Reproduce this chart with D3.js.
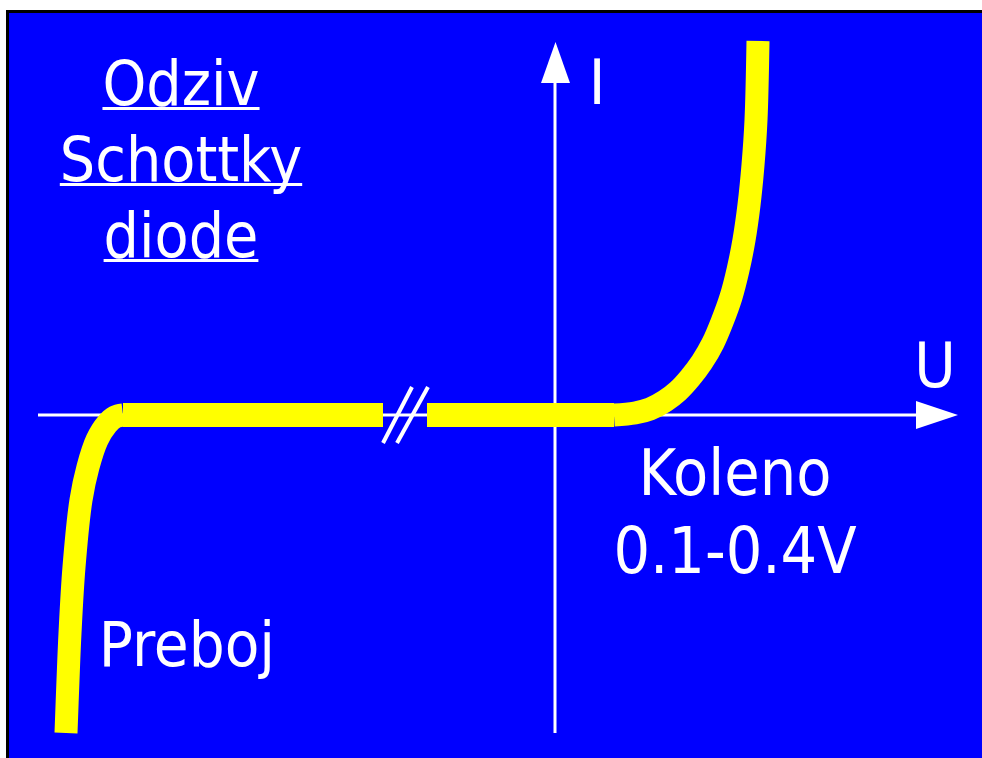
<!DOCTYPE html>
<html>
<head>
<meta charset="utf-8">
<script src="https://cdn.jsdelivr.net/npm/d3@7"></script>
<style>
  body { margin: 0; background: #fff; }
  svg { display: block; }
  .lbl { fill: #fff; font-family: "DejaVu Sans Condensed", "DejaVu Sans", sans-serif; }
</style>
</head>
<body>
<svg id="chart"></svg>
<script>
// schematic I-U curve of a Schottky diode, units are arbitrary (U right, I up)
var breakdownCurve = [[-48.9, -31.8], [-48.7, -26.5], [-48.5, -21.8], [-48.1, -15.2], [-47.4, -8.5],
                      [-46.7, -5.2], [-45.8, -2.5], [-44.8, -0.9], [-44.0, -0.2], [-43.2, 0]]
var leakLeft = [[-43.2, 0], [-17.2, 0]]
var leakRight = [[-12.8, 0], [5.9, 0]]
var forwardCurve = [[5.9, 0], [8.0, 0.2], [9.5, 0.6], [11.0, 1.4], [12.3, 2.4], [13.5, 3.7],
                    [14.7, 5.3], [15.8, 7.2], [16.7, 9.3], [17.6, 11.8], [18.3, 14.5], [18.9, 17.5],
                    [19.4, 21.0], [19.8, 25.0], [20.1, 29.5], [20.3, 37.4]]
var breakMarks = [[[-17.2, -2.8], [-14.3, 2.8]], [[-15.8, -2.8], [-12.7, 2.8]]]
var uAxis = [-51.7, 36.2]   // x axis line, arrow tip at 40.3
var iAxis = [-31.8, 33.3]   // y axis line, arrow tip at 37.3

var titleLines = ["Odziv", "Schottky", "diode"]
var axisNames = {u: "U", i: "I"}
var kneeLines = ["Koleno", "0.1-0.4V"]
var breakdownLabel = "Preboj"

var W = 982, H = 758

var svg = d3.select("#chart")
  .attr("width", W)
  .attr("height", H)

var x = d3.scaleLinear().domain([-52, 41]).range([35, 965])
var y = d3.scaleLinear().domain([-32, 38]).range([735, 35])

// blue panel with black frame
svg.append("rect")
  .attr("x", 7.5).attr("y", 11.5)
  .attr("width", W).attr("height", H)
  .attr("fill", "#0000ff")
  .attr("stroke", "#000")
  .attr("stroke-width", 3)

// axes
svg.append("line")
  .attr("x1", x(uAxis[0])).attr("x2", x(uAxis[1]))
  .attr("y1", y(0)).attr("y2", y(0))
  .attr("stroke", "#fff").attr("stroke-width", 3)

svg.append("line")
  .attr("x1", x(0)).attr("x2", x(0))
  .attr("y1", y(iAxis[0])).attr("y2", y(iAxis[1]))
  .attr("stroke", "#fff").attr("stroke-width", 3)

svg.append("path")
  .attr("d", d3.line()([[x(40.3), y(0)], [x(36.1), y(1.4)], [x(36.1), y(-1.4)]]) + "Z")
  .attr("fill", "#fff")

svg.append("path")
  .attr("d", d3.line()([[x(0.05), y(37.3)], [x(-1.4), y(33.2)], [x(1.5), y(33.2)]]) + "Z")
  .attr("fill", "#fff")

// the curve
var curveLine = d3.line()
  .x(d => x(d[0]))
  .y(d => y(d[1]))
  .curve(d3.curveCatmullRom.alpha(0.5))

var straight = d3.line().x(d => x(d[0])).y(d => y(d[1]))

svg.selectAll(".curve")
  .data([breakdownCurve, forwardCurve])
  .enter().append("path")
  .attr("class", "curve")
  .attr("d", curveLine)
  .attr("fill", "none")
  .attr("stroke", "#ffff00")
  .attr("stroke-width", 23)

svg.selectAll(".leak")
  .data([leakLeft, leakRight])
  .enter().append("path")
  .attr("class", "leak")
  .attr("d", straight)
  .attr("fill", "none")
  .attr("stroke", "#ffff00")
  .attr("stroke-width", 24)

// axis break //
svg.selectAll(".brk")
  .data(breakMarks)
  .enter().append("path")
  .attr("class", "brk")
  .attr("d", straight)
  .attr("stroke", "#fff")
  .attr("stroke-width", 4)

// labels
var title = svg.append("g")
title.selectAll("text")
  .data(titleLines)
  .enter().append("text")
  .attr("class", "lbl")
  .attr("x", 181)
  .attr("y", (d, i) => 105 + i * 76)
  .attr("text-anchor", "middle")
  .attr("font-size", 62)
  .text(d => d)
  .each(function(d, i) {
    var w = this.getComputedTextLength()
    title.append("rect")
      .attr("x", 181 - w / 2).attr("y", 107 + i * 76)
      .attr("width", w).attr("height", 3)
      .attr("fill", "#fff")
  })

svg.append("text")
  .attr("class", "lbl")
  .attr("x", 597).attr("y", 104)
  .attr("text-anchor", "middle")
  .attr("font-size", 63)
  .text(axisNames.i)

svg.append("text")
  .attr("class", "lbl")
  .attr("x", 935).attr("y", 387)
  .attr("text-anchor", "middle")
  .attr("font-size", 63)
  .text(axisNames.u)

svg.selectAll(".knee")
  .data(kneeLines)
  .enter().append("text")
  .attr("class", "lbl knee")
  .attr("x", 735)
  .attr("y", (d, i) => 495 + i * 78)
  .attr("text-anchor", "middle")
  .attr("font-size", 64)
  .text(d => d)

svg.append("text")
  .attr("class", "lbl")
  .attr("x", 187).attr("y", 666)
  .attr("text-anchor", "middle")
  .attr("font-size", 63)
  .text(breakdownLabel)
</script>
</body>
</html>
